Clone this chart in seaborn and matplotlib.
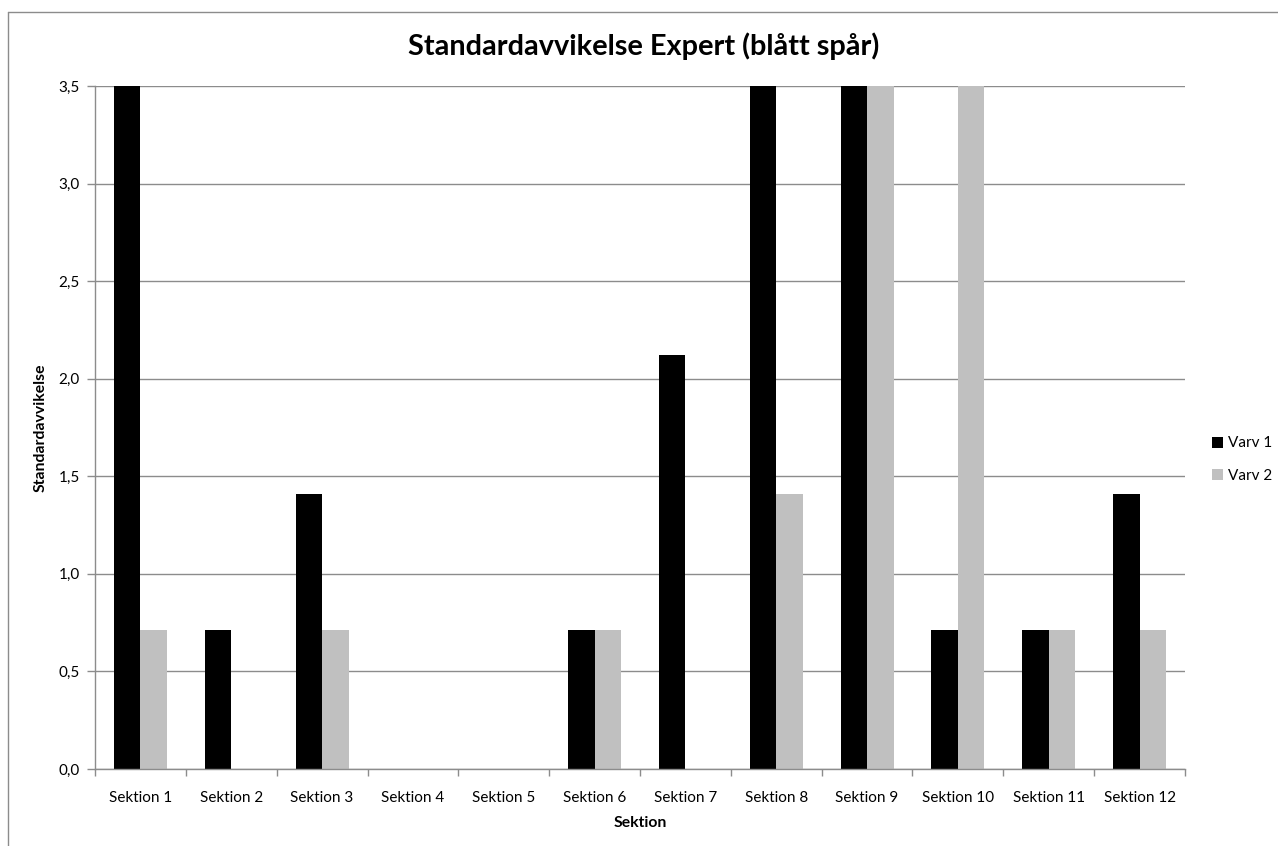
import matplotlib
matplotlib.use("Agg")
import matplotlib.pyplot as plt
import seaborn as sns
import pandas as pd
from matplotlib.lines import Line2D
from matplotlib.ticker import FuncFormatter, MultipleLocator

sections = [f"Sektion {i}" for i in range(1, 13)]
varv1 = [4.24, 0.71, 1.41, 0.0, 0.0, 0.71, 2.12, 4.24, 4.95, 0.71, 0.71, 1.41]
varv2 = [0.71, 0.0, 0.71, 0.0, 0.0, 0.71, 0.0, 1.41, 4.24, 4.24, 0.71, 0.71]
series_names = ["Varv 1", "Varv 2"]
colors = ["#000000", "#C0C0C0"]

df = pd.DataFrame({
    "Sektion": sections * 2,
    "value": varv1 + varv2,
    "Varv": [series_names[0]] * 12 + [series_names[1]] * 12,
})

sns.set_style("white")
plt.rcParams["font.family"] = ["Lato", "DejaVu Sans"]
plt.rcParams["text.color"] = "#000000"
plt.rcParams["axes.labelcolor"] = "#000000"
plt.rcParams["xtick.color"] = "#000000"
plt.rcParams["ytick.color"] = "#000000"

W, H = 1278, 846
fig = plt.figure(figsize=(W / 100, H / 100), dpi=100)
ax = fig.add_axes([95 / W, 1 - 769 / H, (1185 - 95) / W, (769 - 86) / H])

sns.barplot(data=df, x="Sektion", y="value", hue="Varv", palette=colors,
            width=0.585, saturation=1, ax=ax, errorbar=None, legend=True, linewidth=0)

ax.set_ylim(0, 3.5)
ax.set_xlim(-0.5, 11.5)
ax.yaxis.set_major_locator(MultipleLocator(0.5))
ax.yaxis.set_major_formatter(FuncFormatter(lambda v, p: f"{v:.1f}".replace(".", ",")))
ax.grid(axis="y", color="#8c8c8c", linewidth=1)
ax.set_axisbelow(True)
for s in ["top", "right"]:
    ax.spines[s].set_visible(False)
for s in ["left", "bottom"]:
    ax.spines[s].set_color("#8c8c8c")
    ax.spines[s].set_linewidth(1)

ax.set_xticks(range(12))
ax.set_xticklabels(sections)
ax.set_xticks([i - 0.5 for i in range(13)], minor=True)
ax.tick_params(axis="x", which="major", bottom=True, length=0, pad=16, labelsize=11, labelcolor="#000000")
ax.tick_params(axis="x", which="minor", bottom=True, length=5, width=1, color="#8c8c8c", direction="out")
ax.tick_params(axis="y", left=True, length=6, width=1, color="#8c8c8c", direction="out",
               labelsize=11, pad=5, labelcolor="#000000")

ax.set_xlabel("Sektion", fontsize=11.3, fontweight="bold", labelpad=8, color="#000000")
ax.set_ylabel("Standardavvikelse", fontsize=11.3, fontweight="bold", labelpad=8, color="#000000")

fig.text(644 / W, 1 - 46 / H, "Standardavvikelse Expert (blått spår)", ha="center", va="center",
         fontsize=20.8, fontweight="bold", color="#000000")

handles, labels = ax.get_legend_handles_labels()
leg = ax.legend(handles, labels, loc="center left", bbox_to_anchor=(1.012, 0.453), frameon=False,
                handlelength=0.75, handleheight=0.75, handletextpad=0.3, labelspacing=1.2, fontsize=11)
for t in leg.get_texts():
    t.set_color("#000000")

# outer chart frame (top and left edges)
fig.add_artist(Line2D([8 / W, 1], [1 - 12 / H, 1 - 12 / H], color="#8c8c8c", linewidth=1))
fig.add_artist(Line2D([8 / W, 8 / W], [0, 1 - 12 / H], color="#8c8c8c", linewidth=1))

fig.savefig("out.png", dpi=100)
